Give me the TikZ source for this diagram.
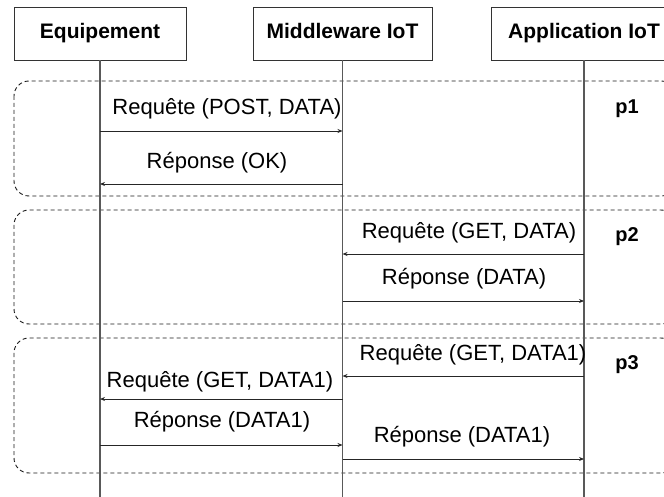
\documentclass[tikz,border=0pt]{standalone}
\usepackage{fontspec}
\setmainfont{Liberation Sans}
\usetikzlibrary{arrows.meta}
\tikzset{
  actor/.style={draw=black!80, line width=0.9pt, fill=white, rectangle, minimum height=53, inner sep=0pt,
    text height=15pt, text depth=4.5pt, font=\fontsize{21}{25}\selectfont\bfseries},
  lifeline/.style={draw=black!65, line width=1.2pt},
  phase/.style={draw=black!90, line width=0.9pt, dash pattern=on 4pt off 3pt, rounded corners=15pt},
  msg/.style={draw=black!85, line width=0.9pt, -{Stealth[length=5pt,width=4pt]}},
  lbl/.style={inner sep=0pt, font=\fontsize{22}{26}\selectfont},
  plbl/.style={inner sep=0pt, font=\fontsize{20}{24}\selectfont\bfseries}
}
\begin{document}
\begin{tikzpicture}[x=1pt,y=-1pt]
\useasboundingbox (0,0) rectangle (664,497);
\clip (0,0) rectangle (664,497);
% phases
\draw[phase] (14,81) rectangle (676,196);
\draw[phase] (14,210) rectangle (676,324);
\draw[phase] (14,338) rectangle (676,473);
% actors
\node[actor, minimum width=172] (eq) at (100,33.5) {Equipement};
\node[actor, minimum width=179] (mw) at (342.5,33.5) {Middleware IoT};
\node[actor, minimum width=186] (ap) at (584,33.5) {Application IoT};
% lifeline bottoms
\coordinate (bot) at (0,497);
\draw[lifeline] (eq.south) -- (eq.south |- bot);
\draw[lifeline] (mw.south) -- (mw.south |- bot);
\draw[lifeline] (ap.south) -- (ap.south |- bot);
% message levels
\coordinate (m1) at (0,131);
\coordinate (m2) at (0,184);
\coordinate (m3) at (0,254);
\coordinate (m4) at (0,301);
\coordinate (m5) at (0,376);
\coordinate (m6) at (0,399);
\coordinate (m7) at (0,445);
\coordinate (m8) at (0,459);
% messages
\draw[msg] (eq |- m1) -- (mw |- m1);
\draw[msg] (mw |- m2) -- (eq |- m2);
\draw[msg] (ap |- m3) -- (mw |- m3);
\draw[msg] (mw |- m4) -- (ap |- m4);
\draw[msg] (ap |- m5) -- (mw |- m5);
\draw[msg] (mw |- m6) -- (eq |- m6);
\draw[msg] (eq |- m7) -- (mw |- m7);
\draw[msg] (mw |- m8) -- (ap |- m8);
% labels
\node[lbl] (t1) at (227,109) {Requête (POST, DATA)};
\node[lbl] (t2) at (217,163) {Réponse (OK)};
\node[lbl] (t3) at (469,233) {Requête (GET, DATA)};
\node[lbl] (t4) at (464,279) {Réponse (DATA)};
\node[lbl] (t5) at (473,355) {Requête (GET, DATA1)};
\node[lbl] (t6) at (220,382) {Requête (GET, DATA1)};
\node[lbl] (t7) at (222,422) {Réponse (DATA1)};
\node[lbl] (t8) at (462,437) {Réponse (DATA1)};
\node[plbl] (p1) at (627,108.5) {p1};
\node[plbl] (p2) at (627,237) {p2};
\node[plbl] (p3) at (627,365) {p3};
\end{tikzpicture}
\end{document}
